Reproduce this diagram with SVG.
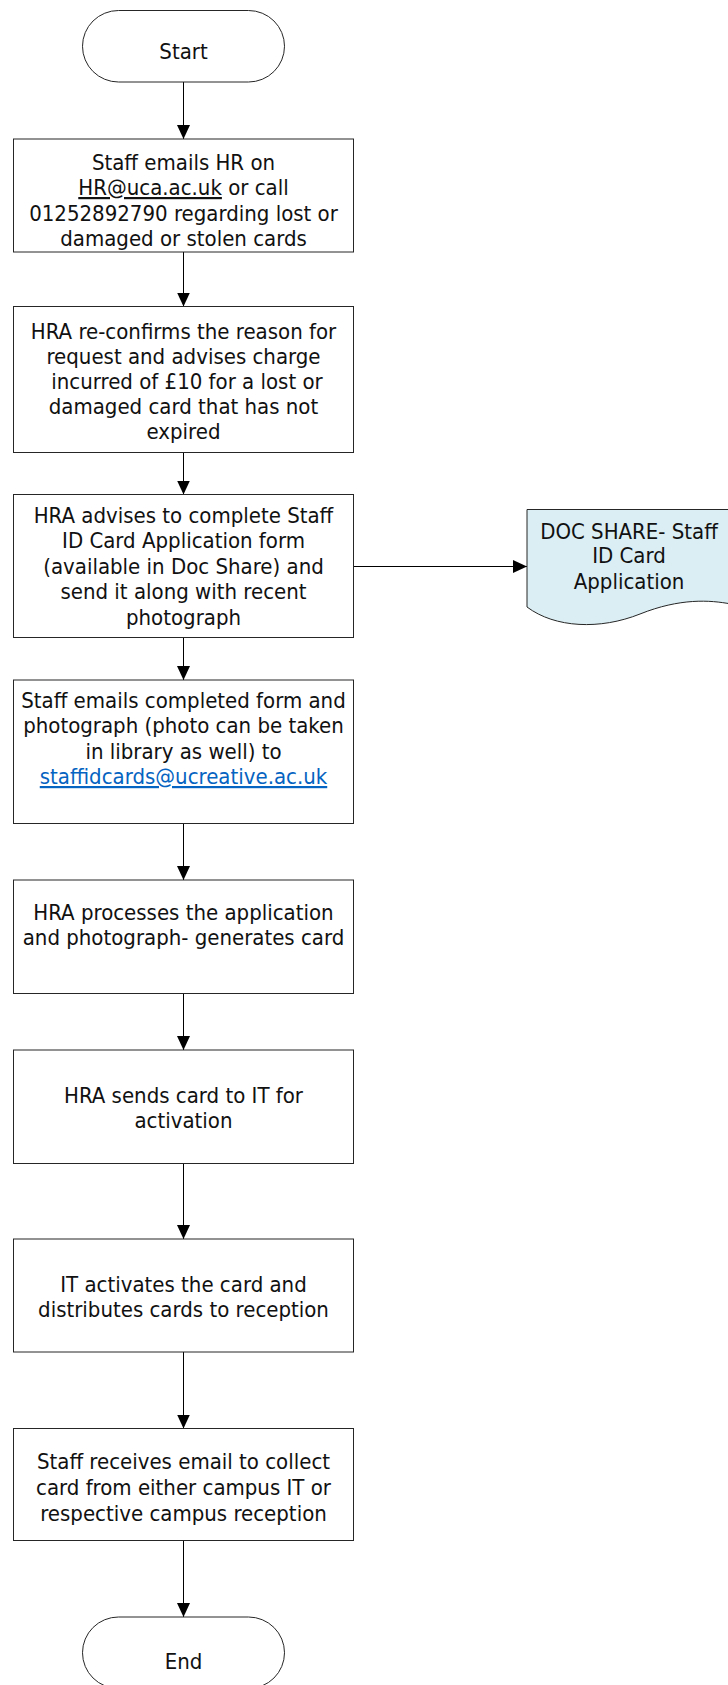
<svg xmlns="http://www.w3.org/2000/svg" width="728" height="1685" viewBox="0 0 728 1685">
<style>
.shape{fill:#ffffff;stroke:#262626;stroke-width:1}
.doc{fill:#dbeef4;stroke:#262626;stroke-width:1}
.conn{fill:none;stroke:#000000;stroke-width:1}
text{font-family:"DejaVu Sans Condensed","DejaVu Sans",sans-serif;font-stretch:condensed;font-size:22px;fill:#111111;text-anchor:middle}
.u{text-decoration:underline}
.link{fill:#0563c1;text-decoration:underline}
</style>
<defs>
<marker id="arr" markerUnits="userSpaceOnUse" markerWidth="14" markerHeight="14" refX="14" refY="6.5" orient="auto">
<path d="M0,0 L14,6.5 L0,13 z" fill="#000000"/>
</marker>
</defs>
<g id="connectors">
<line class="conn" x1="183.5" y1="82" x2="183.5" y2="139" marker-end="url(#arr)"/>
<line class="conn" x1="183.5" y1="252" x2="183.5" y2="306.5" marker-end="url(#arr)"/>
<line class="conn" x1="183.5" y1="452.5" x2="183.5" y2="494.5" marker-end="url(#arr)"/>
<line class="conn" x1="183.5" y1="637.5" x2="183.5" y2="680" marker-end="url(#arr)"/>
<line class="conn" x1="183.5" y1="823.5" x2="183.5" y2="880" marker-end="url(#arr)"/>
<line class="conn" x1="183.5" y1="993.5" x2="183.5" y2="1050" marker-end="url(#arr)"/>
<line class="conn" x1="183.5" y1="1163.5" x2="183.5" y2="1239" marker-end="url(#arr)"/>
<line class="conn" x1="183.5" y1="1352" x2="183.5" y2="1428.5" marker-end="url(#arr)"/>
<line class="conn" x1="183.5" y1="1540.5" x2="183.5" y2="1617" marker-end="url(#arr)"/>
<line class="conn" x1="353.5" y1="566.5" x2="527" y2="566.5" marker-end="url(#arr)"/>
</g>
<g id="start">
<rect class="shape" x="82.5" y="10.5" width="202" height="71.5" rx="36" ry="35.75"/>
<text x="183.5" y="59.3">Start</text>
</g>
<g id="step1">
<rect class="shape" x="13.5" y="139" width="340" height="113"/>
<text x="183.5" y="170">Staff emails HR on</text>
<text x="183.5" y="195"><tspan class="u">HR@uca.ac.uk</tspan> or call</text>
<text x="183.5" y="220.5">01252892790 regarding lost or</text>
<text x="183.5" y="245.5">damaged or stolen cards</text>
</g>
<g id="step2">
<rect class="shape" x="13.5" y="306.5" width="340" height="146"/>
<text x="183.5" y="338.5">HRA re-confirms the reason for</text>
<text x="183.5" y="364">request and advises charge</text>
<text x="187" y="389">incurred of £10 for a lost or</text>
<text x="183.5" y="414">damaged card that has not</text>
<text x="183.5" y="439">expired</text>
</g>
<g id="step3">
<rect class="shape" x="13.5" y="494.5" width="340" height="143"/>
<text x="183.5" y="522.5">HRA advises to complete Staff</text>
<text x="183.5" y="548">ID Card Application form</text>
<text x="183.5" y="573.5">(available in Doc Share) and</text>
<text x="183.5" y="599">send it along with recent</text>
<text x="183.5" y="624.5">photograph</text>
</g>
<g id="docshare">
<path class="doc" d="M527,509.5 L731,509.5 L731,604 C710,600 680,598 640,614 C600,630 555,628 527,607 Z"/>
<text x="629" y="539.3">DOC SHARE- Staff</text>
<text x="629" y="563.3">ID Card</text>
<text x="629" y="589.3">Application</text>
</g>
<g id="step4">
<rect class="shape" x="13.5" y="680" width="340" height="143.5"/>
<text x="183.5" y="707.5">Staff emails completed form and</text>
<text x="183.5" y="733">photograph (photo can be taken</text>
<text x="183.5" y="758.5">in library as well) to</text>
<text x="183.5" y="784" class="link">staffidcards@ucreative.ac.uk</text>
</g>
<g id="step5">
<rect class="shape" x="13.5" y="880" width="340" height="113.5"/>
<text x="183.5" y="920">HRA processes the application</text>
<text x="183.5" y="945">and photograph- generates card</text>
</g>
<g id="step6">
<rect class="shape" x="13.5" y="1050" width="340" height="113.5"/>
<text x="183.5" y="1102.5">HRA sends card to IT for</text>
<text x="183.5" y="1128">activation</text>
</g>
<g id="step7">
<rect class="shape" x="13.5" y="1239" width="340" height="113"/>
<text x="183.5" y="1291.5">IT activates the card and</text>
<text x="183.5" y="1317">distributes cards to reception</text>
</g>
<g id="step8">
<rect class="shape" x="13.5" y="1428.5" width="340" height="112"/>
<text x="183.5" y="1469">Staff receives email to collect</text>
<text x="183.5" y="1495">card from either campus IT or</text>
<text x="183.5" y="1521">respective campus reception</text>
</g>
<g id="end">
<rect class="shape" x="82.5" y="1617" width="202" height="71.5" rx="36" ry="35.75"/>
<text x="183.5" y="1669">End</text>
</g>
</svg>
